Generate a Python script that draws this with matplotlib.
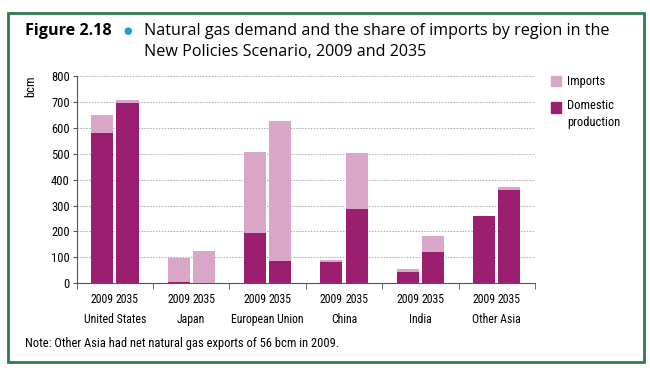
import matplotlib.pyplot as plt
import numpy as np
from matplotlib import font_manager
from matplotlib.patches import Rectangle

regions = ["United States", "Japan", "European Union", "China", "India", "Other Asia"]
years = ["2009", "2035"]
domestic_2009 = [580, 4, 195, 82, 43, 260]
imports_2009 = [70, 93, 313, 8, 12, 0]
domestic_2035 = [695, 0, 85, 288, 120, 360]
imports_2035 = [13, 125, 540, 215, 63, 13]

DOMESTIC = "#9c1f6f"
IMPORTS = "#d8a7c8"

# pick a narrow font if one is installed
installed = {f.name for f in font_manager.fontManager.ttflist}
narrow_pref = ["Liberation Sans Narrow", "Arial Narrow", "Roboto Condensed", "PT Sans Narrow",
               "Open Sans Condensed", "Fira Sans Condensed", "Archivo Narrow", "Ubuntu Condensed",
               "IBM Plex Sans Condensed", "Asap Condensed", "Carlito"]
narrow = next((n for n in narrow_pref if n in installed), None)
if narrow is None:
    narrow = "DejaVu Sans"
    plt.rcParams["font.stretch"] = "condensed"
plt.rcParams["font.family"] = [narrow, "DejaVu Sans"]
FS = 9

fig = plt.figure(figsize=(6.5, 3.79), dpi=100)
ax = fig.add_axes([0.118, 0.253, 0.705, 0.546])

x = np.arange(len(regions))
off = 0.165
width = 0.29
for xs, dom, imp in ((x - off, domestic_2009, imports_2009), (x + off, domestic_2035, imports_2035)):
    ax.bar(xs, dom, width, color=DOMESTIC, zorder=3)
    ax.bar(xs, imp, width, bottom=dom, color=IMPORTS, zorder=3)

ax.set_xlim(-0.5, len(regions) - 0.5)
ax.set_ylim(0, 800)
ax.set_yticks(range(0, 801, 100))
ax.grid(axis="y", linestyle=(0, (1.5, 1.5)), color="#aaaaaa", linewidth=0.7, zorder=0)
ax.spines[["top", "right"]].set_visible(False)
ax.spines["left"].set_color("#555555")
ax.spines["bottom"].set_color("#555555")
ax.tick_params(axis="y", length=3, labelsize=FS, color="#555555", pad=2)

pos = np.sort(np.concatenate([x - off, x + off]))
ax.set_xticks(pos, years * len(regions))
ax.tick_params(axis="x", which="major", length=0, labelsize=FS - 0.5, pad=7)
ax.set_xticks(np.arange(-0.5, len(regions)), minor=True)
ax.tick_params(axis="x", which="minor", length=4, color="#555555", direction="out")

for i, name in enumerate(regions):
    ax.text(i, -0.145, name, transform=ax.get_xaxis_transform(), ha="center", va="top", fontsize=FS - 0.5)

fig.text(0.048, 0.80, "bcm", rotation=90, ha="center", va="top", fontsize=FS)

# legend
tf = fig.transFigure
fig.patches.append(Rectangle((0.848, 0.772), 0.015, 0.028, transform=tf, color=IMPORTS, figure=fig))
fig.text(0.872, 0.786, "Imports", va="center", fontsize=FS)
fig.patches.append(Rectangle((0.848, 0.703), 0.015, 0.028, transform=tf, color=DOMESTIC, figure=fig))
fig.text(0.872, 0.739, "Domestic\nproduction", va="top", fontsize=FS, linespacing=1.4)

# title
TF = ["Open Sans", "DejaVu Sans"]
fig.text(0.038, 0.918, "Figure 2.18", fontsize=11.6, fontweight="bold", va="center", family=TF, stretch="normal")
fig.text(0.196, 0.918, "\u25cf", fontsize=7, color="#1f9bd7", va="center", ha="center", family="DejaVu Sans")
fig.text(0.222, 0.918, "Natural gas demand and the share of imports by region in the",
         fontsize=11.6, va="center", family=TF, stretch="normal")
fig.text(0.222, 0.862, "New Policies Scenario, 2009 and 2035",
         fontsize=11.6, va="center", family=TF, stretch="normal")

fig.text(0.038, 0.093, "Note: Other Asia had net natural gas exports of 56 bcm in 2009.", fontsize=FS, va="center")

fig.patches.append(Rectangle((0.013, 0.045), 0.978, 0.92, transform=tf, fill=False,
                             edgecolor="#2e7a4f", linewidth=2, figure=fig))

fig.savefig("out.png", dpi=100)
